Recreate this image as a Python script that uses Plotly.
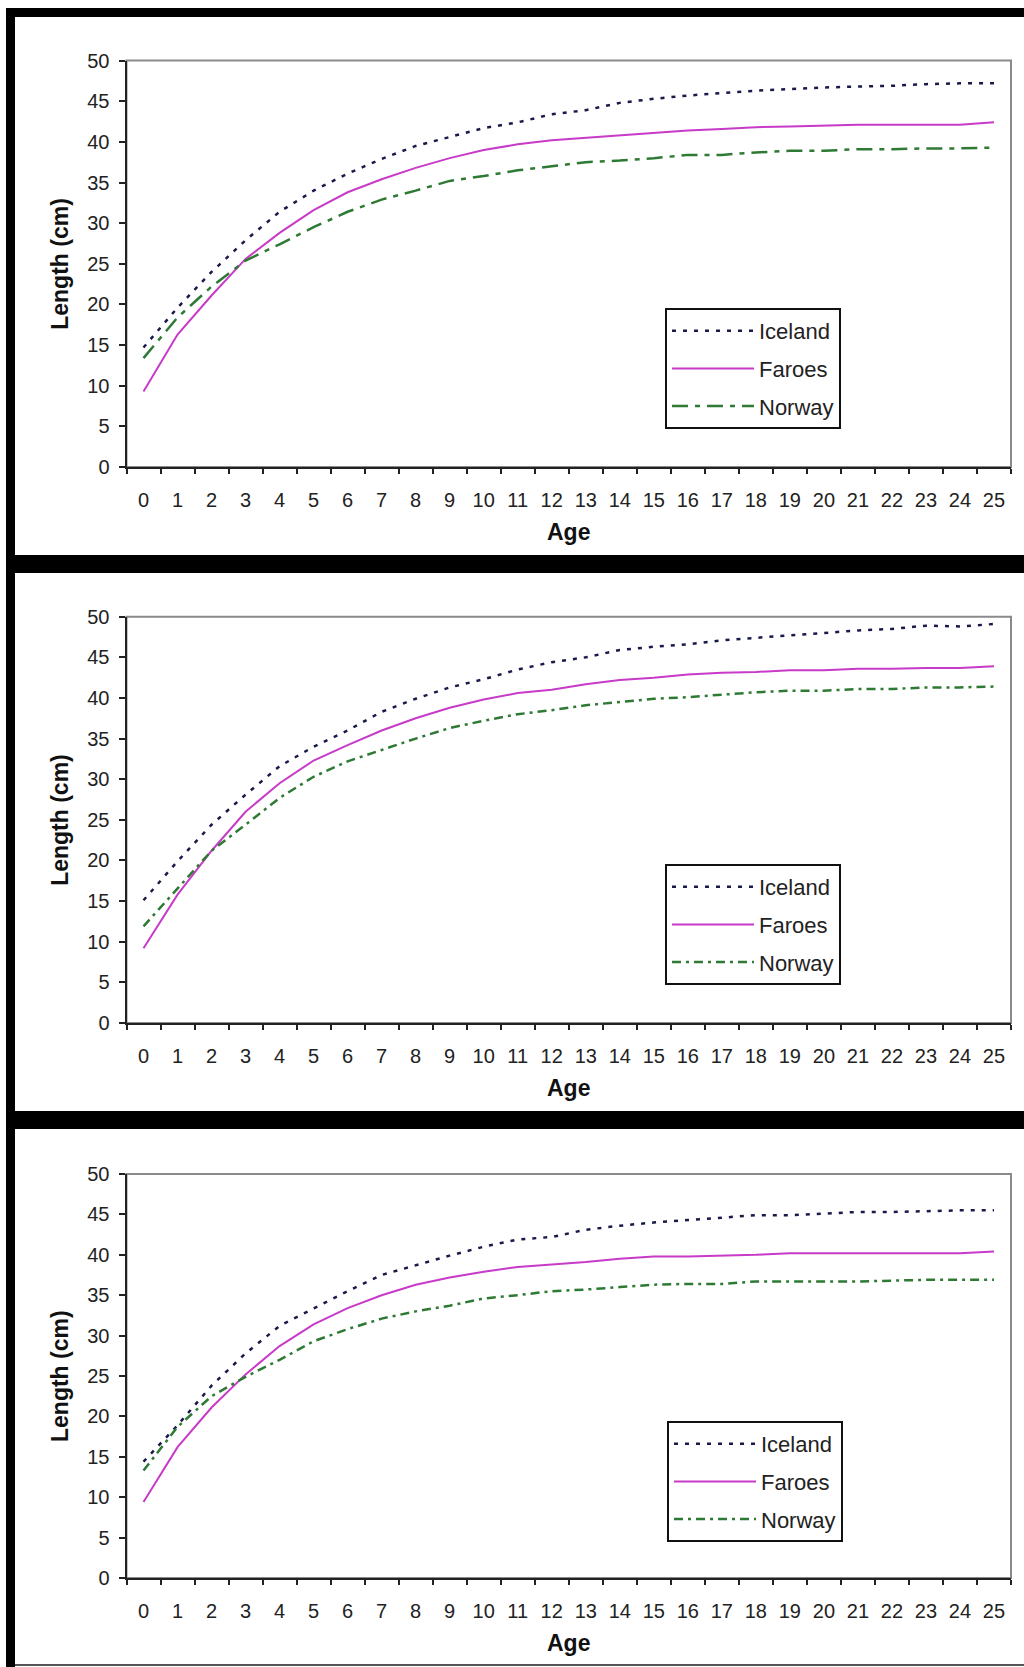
import plotly.graph_objects as go

# ---------------- data ----------------
ages = [str(a) for a in range(26)]
series_names = ["Iceland", "Faroes", "Norway"]

iceland_1 = [14.7, 19.6, 24.0, 27.9, 31.4, 34.0, 36.1, 37.9, 39.5, 40.6, 41.7, 42.4, 43.4,
             43.9, 44.8, 45.3, 45.7, 46.0, 46.3, 46.5, 46.7, 46.8, 46.9, 47.1, 47.2, 47.2]
faroes_1 = [9.3, 16.3, 21.1, 25.6, 28.8, 31.6, 33.8, 35.4, 36.8, 38.0, 39.0, 39.7, 40.2,
            40.5, 40.8, 41.1, 41.4, 41.6, 41.8, 41.9, 42.0, 42.1, 42.1, 42.1, 42.1, 42.4]
norway_1 = [13.4, 18.4, 22.2, 25.4, 27.4, 29.5, 31.4, 32.9, 34.0, 35.2, 35.8, 36.5, 37.0,
            37.5, 37.7, 38.0, 38.4, 38.4, 38.7, 38.9, 38.9, 39.1, 39.1, 39.2, 39.2, 39.3]

iceland_2 = [15.1, 19.9, 24.4, 28.1, 31.6, 34.0, 36.0, 38.3, 39.9, 41.3, 42.3, 43.5, 44.4,
             45.0, 45.9, 46.3, 46.6, 47.1, 47.4, 47.7, 48.0, 48.3, 48.5, 48.9, 48.8, 49.1]
faroes_2 = [9.2, 15.8, 21.2, 26.0, 29.5, 32.3, 34.2, 36.0, 37.5, 38.8, 39.8, 40.6, 41.0,
            41.7, 42.2, 42.5, 42.9, 43.1, 43.2, 43.4, 43.4, 43.6, 43.6, 43.7, 43.7, 43.9]
norway_2 = [11.9, 16.5, 21.2, 24.4, 27.7, 30.3, 32.2, 33.6, 35.0, 36.3, 37.2, 38.0, 38.5,
            39.1, 39.5, 39.9, 40.1, 40.4, 40.7, 40.9, 40.9, 41.1, 41.1, 41.3, 41.3, 41.4]

iceland_3 = [14.4, 18.9, 23.8, 27.8, 31.2, 33.4, 35.5, 37.5, 38.7, 39.9, 41.0, 41.9, 42.2,
             43.1, 43.6, 44.0, 44.3, 44.6, 44.9, 44.9, 45.1, 45.3, 45.3, 45.4, 45.5, 45.5]
faroes_3 = [9.4, 16.2, 21.1, 25.2, 28.7, 31.4, 33.4, 35.0, 36.3, 37.2, 37.9, 38.5, 38.8,
            39.1, 39.5, 39.8, 39.8, 39.9, 40.0, 40.2, 40.2, 40.2, 40.2, 40.2, 40.2, 40.4]
norway_3 = [13.3, 18.7, 22.5, 24.9, 27.0, 29.3, 30.8, 32.1, 33.0, 33.7, 34.6, 35.0, 35.5,
            35.7, 36.0, 36.3, 36.4, 36.4, 36.7, 36.7, 36.7, 36.7, 36.8, 36.9, 36.9, 36.9]

y_ticks = [0, 5, 10, 15, 20, 25, 30, 35, 40, 45, 50]

panels = [
    [iceland_1, faroes_1, norway_1],
    [iceland_2, faroes_2, norway_2],
    [iceland_3, faroes_3, norway_3],
]

# ---------------- styling ----------------
W, H = 1024, 1667
FONT = "Arial, 'Liberation Sans', sans-serif"
colors = {"Iceland": "#1a1a4a", "Faroes": "#c83ac8", "Norway": "#2e7a34"}
dashes = [
    {"Iceland": "4px,7px", "Faroes": "solid", "Norway": "16px,7px,5px,7px"},
    {"Iceland": "4px,7px", "Faroes": "solid", "Norway": "9px,5px,3px,5px"},
    {"Iceland": "4px,7px", "Faroes": "solid", "Norway": "9px,5px,3px,5px"},
]
widths = {"Iceland": 2.5, "Faroes": 2, "Norway": 2.5}

plot_boxes = [(126.5, 60.6, 1011, 467), (126.5, 616.7, 1011, 1023), (126.5, 1174, 1011, 1578)]
legend_tops = [(665, 308), (665, 864), (667, 1421)]

def fx(p):
    return p / W

def fy(p):
    return 1 - p / H

fig = go.Figure()
layout = dict(
    width=W, height=H,
    margin=dict(l=0, r=0, t=0, b=0, pad=0, autoexpand=False),
    paper_bgcolor="white", plot_bgcolor="white",
    font=dict(family=FONT, size=20, color="#222"),
    showlegend=True,
)
shapes = []
annotations = []

for i, vals in enumerate(panels):
    k = "" if i == 0 else str(i + 1)
    xa, ya = "x" + k, "y" + k
    leg = "legend" + k
    for name, v in zip(series_names, vals):
        fig.add_trace(go.Scatter(
            x=ages, y=v, mode="lines", name=name,
            xaxis=xa, yaxis=ya, legend=leg, legendgroup=f"{name}{i}",
            line=dict(color=colors[name], width=widths[name], dash=dashes[i][name]),
            hoverinfo="skip",
        ))
    l, t, r, b = plot_boxes[i]
    layout["xaxis" + k] = dict(
        domain=[fx(l), fx(r)], anchor=ya, type="category",
        categoryorder="array", categoryarray=ages,
        range=[-0.5, 25.5], tickson="boundaries",
        ticks="outside", ticklen=5, tickwidth=2, tickcolor="#222",
        showline=True, linecolor="#222", linewidth=2,
        showgrid=False, zeroline=False, automargin=False,
        tickfont=dict(size=20, family=FONT, color="#222"),
        ticklabelstandoff=14, fixedrange=True,
    )
    layout["yaxis" + k] = dict(
        domain=[fy(b), fy(t)], anchor=xa, range=[0, 50],
        tickmode="array", tickvals=y_ticks,
        ticks="outside", ticklen=6, tickwidth=2, tickcolor="#222",
        showline=True, linecolor="#222", linewidth=2,
        showgrid=False, zeroline=False, automargin=False,
        tickfont=dict(size=20, family=FONT, color="#222"),
        ticklabelstandoff=5, fixedrange=True,
    )
    shapes.append(dict(type="rect", xref=xa + " domain", yref=ya + " domain",
                       x0=0, x1=1, y0=0, y1=1, line=dict(color="#8a8a8a", width=2),
                       layer="below"))
    lx, lt = legend_tops[i]
    layout[leg] = dict(
        x=fx(lx), y=fy(lt), xanchor="left", yanchor="top",
        bordercolor="#111", borderwidth=2, bgcolor="white",
        font=dict(size=22, family=FONT, color="#222"),
        tracegroupgap=6, traceorder="grouped", itemwidth=82,
    )
    annotations.append(dict(
        text="<b>Length (cm)</b>", textangle=-90, xref="paper", yref="paper",
        x=fx(60), y=fy((t + b) / 2), xanchor="center", yanchor="middle",
        showarrow=False, font=dict(size=23, family=FONT, color="#111")))
    annotations.append(dict(
        text="<b>Age</b>", xref="paper", yref="paper",
        x=fx((l + r) / 2), y=fy(b + 65), xanchor="center", yanchor="middle",
        showarrow=False, font=dict(size=23, family=FONT, color="#111")))

frame_bars = [(6, 8, 1024, 17), (6, 8, 15, 1667), (15, 555, 1024, 573), (15, 1111, 1024, 1129)]
for x0, y0, x1, y1 in frame_bars:
    shapes.append(dict(type="rect", xref="paper", yref="paper",
                       x0=fx(x0), x1=fx(x1), y0=fy(y1), y1=fy(y0),
                       fillcolor="black", line=dict(width=0), layer="above"))
shapes.append(dict(type="line", xref="paper", yref="paper", x0=fx(15), x1=1,
                   y0=fy(1665), y1=fy(1665), line=dict(color="#555", width=2)))

layout["shapes"] = shapes
layout["annotations"] = annotations
fig.update_layout(**layout)
fig.write_html("out.html", post_script="document.body.style.margin='0';")
